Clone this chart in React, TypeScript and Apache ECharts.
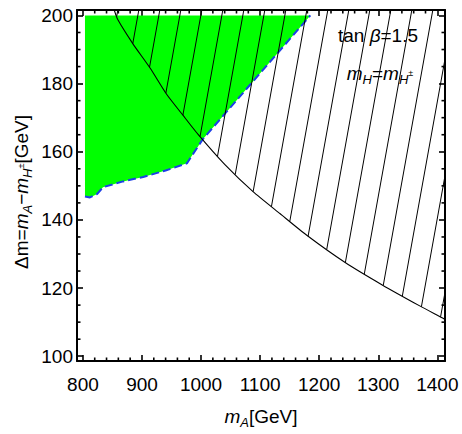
import React, { useEffect, useRef } from "react";
import * as echarts from "echarts";

// Axis ranges (Mathematica-style padded plot range)
const X_MIN = 790;
const X_MAX = 1413;
const Y_MIN = 98.6;
const Y_MAX = 201.6;

// Tick positions
const xMajorTicks = [800, 900, 1000, 1100, 1200, 1300, 1400];
const xMinorTicks = [820, 840, 860, 880, 920, 940, 960, 980, 1020, 1040, 1060, 1080, 1120, 1140, 1160, 1180, 1220, 1240, 1260, 1280, 1320, 1340, 1360, 1380];
const yMajorTicks = [100, 120, 140, 160, 180, 200];
const yMinorTicks = [105, 110, 115, 125, 130, 135, 145, 150, 155, 165, 170, 175, 185, 190, 195];

// Black exclusion curve (lower boundary of hatched region)
const curveX = [853, 859, 885, 914, 942, 969, 995, 1040, 1088, 1134, 1179, 1244, 1306, 1371, 1408, 1413];
const curveY = [201.6, 198.8, 191.6, 184.5, 176.8, 170.8, 165.1, 156.3, 148.3, 141.8, 135.5, 127.5, 121.0, 114.7, 111.3, 110.8];

// Hatched region closes along the top-right of the plot range
const hatchCornerX = [1413, 853];
const hatchCornerY = [201.6, 201.6];

// Green allowed region: lower (blue dashed) boundary, then top-left corner
const greenX = [803.5, 812, 824, 834, 868, 902, 940, 976, 1003, 1185];
const greenY = [146.9, 146.6, 147.6, 149.6, 151.3, 152.6, 154.5, 156.6, 163.7, 200];
const greenTopLeftX = [803.5];
const greenTopLeftY = [200];

// Hatch anchor (one hatch line crosses y=200 at this x)
const HATCH_ANCHOR = [893, 200];

const W = 462;
const H = 434;
const FONT = "'Liberation Sans', Arial, Helvetica, sans-serif";
const FS = 19;

const richBase = {
  n: { fontSize: FS, fontFamily: FONT, color: "#000", lineHeight: 26 },
  i: { fontSize: FS, fontFamily: FONT, color: "#000", fontStyle: "italic", lineHeight: 26 },
  s: { fontSize: 13, fontFamily: FONT, color: "#000", fontStyle: "italic", verticalAlign: "bottom", lineHeight: 14 },
};
const richFull = {
  ...richBase,
  p: { fontSize: 9, fontFamily: FONT, color: "#000", verticalAlign: "middle", lineHeight: 10 },
};

function mainOption(): any {
  const hatchPolyX = [...curveX, ...hatchCornerX];
  const hatchPolyY = [...curveY, ...hatchCornerY];
  const greenPolyX = [...greenX, ...greenTopLeftX];
  const greenPolyY = [...greenY, ...greenTopLeftY];
  const tickStyle = { color: "#000", width: 1.6 };

  const xAxes: any[] = [
    {
      type: "value", min: X_MIN, max: X_MAX, position: "bottom",
      splitLine: { show: false },
      axisLine: { show: true, onZero: false, lineStyle: { color: "#000", width: 2 } },
      axisTick: { show: true, inside: true, length: 6, customValues: xMajorTicks, lineStyle: tickStyle },
      axisLabel: { customValues: xMajorTicks, formatter: (v: number) => String(v), fontSize: FS, fontFamily: FONT, color: "#000", margin: 14 },
      name: "{i|m}{s|A}{n|[GeV]}", nameLocation: "middle", nameGap: 42, nameTextStyle: { rich: richBase },
    },
    {
      type: "value", min: X_MIN, max: X_MAX, position: "top",
      splitLine: { show: false },
      axisLine: { show: true, onZero: false, lineStyle: { color: "#000", width: 2 } },
      axisTick: { show: true, inside: true, length: 6, customValues: xMajorTicks, lineStyle: tickStyle },
      axisLabel: { show: false },
    },
  ];
  const yAxes: any[] = [
    {
      type: "value", min: Y_MIN, max: Y_MAX, position: "left",
      splitLine: { show: false },
      axisLine: { show: true, onZero: false, lineStyle: { color: "#000", width: 2 } },
      axisTick: { show: true, inside: true, length: 6, customValues: yMajorTicks, lineStyle: tickStyle },
      axisLabel: { customValues: yMajorTicks, formatter: (v: number) => String(v), fontSize: FS, fontFamily: FONT, color: "#000", margin: 4 },
    },
    {
      type: "value", min: Y_MIN, max: Y_MAX, position: "right",
      splitLine: { show: false },
      axisLine: { show: true, onZero: false, lineStyle: { color: "#000", width: 2 } },
      axisTick: { show: true, inside: true, length: 6, customValues: yMajorTicks, lineStyle: tickStyle },
      axisLabel: { show: false },
    },
  ];

  const series: any[] = [
    {
      type: "custom", name: "allowed",
      data: greenPolyX.map((x, i) => [x, greenPolyY[i]]),
      renderItem: (params: any, api: any) => {
        if (params.dataIndex !== 0) return null;
        const pts = greenPolyX.map((x, i) => api.coord([x, greenPolyY[i]]));
        return { type: "polygon", shape: { points: pts }, style: { fill: "#00ff00", stroke: "none" } };
      },
      z: 1,
    },
    {
      type: "line", name: "boundary",
      data: greenX.map((x, i) => [x, greenY[i]]),
      symbol: "none",
      lineStyle: { color: "#1c3fe6", width: 2, type: [8, 4] },
      z: 2,
    },
    {
      type: "custom", name: "excluded",
      data: hatchPolyX.map((x, i) => [x, hatchPolyY[i]]),
      renderItem: (params: any, api: any) => {
        if (params.dataIndex !== 0) return null;
        const poly = hatchPolyX.map((x, i) => api.coord([x, hatchPolyY[i]]));
        const a = api.coord(HATCH_ANCHOR);
        const s = 0.18, gap = 21;
        const u0 = a[0] + s * a[1];
        const us = poly.map((p: number[]) => p[0] + s * p[1]);
        const kmin = Math.ceil((Math.min(...us) - u0) / gap);
        const kmax = Math.floor((Math.max(...us) - u0) / gap);
        const children: any[] = [];
        for (let k = kmin; k <= kmax; k++) {
          const c = u0 + k * gap;
          const ys: number[] = [];
          for (let i = 0; i < poly.length; i++) {
            const j = (i + 1) % poly.length;
            const u1 = us[i], u2 = us[j];
            if ((u1 <= c && u2 > c) || (u2 <= c && u1 > c)) {
              const t = (c - u1) / (u2 - u1);
              ys.push(poly[i][1] + t * (poly[j][1] - poly[i][1]));
            }
          }
          ys.sort((p, q) => p - q);
          for (let m = 0; m + 1 < ys.length; m += 2) {
            children.push({ type: "line", shape: { x1: c - s * ys[m], y1: ys[m], x2: c - s * ys[m + 1], y2: ys[m + 1] }, style: { stroke: "#000", lineWidth: 1 } });
          }
        }
        return { type: "group", children };
      },
      z: 3,
    },
    {
      type: "line", name: "curve",
      data: curveX.map((x, i) => [x, curveY[i]]),
      symbol: "none", smooth: 0.2,
      lineStyle: { color: "#000", width: 1.1 },
      z: 4,
    },
    {
      type: "custom", name: "minorTicks",
      data: [[X_MIN, Y_MIN]],
      renderItem: (params: any, api: any) => {
        const L = 3.5;
        const children: any[] = [];
        const bl = api.coord([X_MIN, Y_MIN]);
        const tr = api.coord([X_MAX, Y_MAX]);
        const st = { stroke: "#000", lineWidth: 1.6 };
        xMinorTicks.forEach((v) => {
          const x = api.coord([v, Y_MIN])[0];
          children.push({ type: "line", shape: { x1: x, y1: bl[1], x2: x, y2: bl[1] - L }, style: st });
          children.push({ type: "line", shape: { x1: x, y1: tr[1], x2: x, y2: tr[1] + L }, style: st });
        });
        yMinorTicks.forEach((v) => {
          const y = api.coord([X_MIN, v])[1];
          children.push({ type: "line", shape: { x1: bl[0], y1: y, x2: bl[0] + L, y2: y }, style: st });
          children.push({ type: "line", shape: { x1: tr[0], y1: y, x2: tr[0] - L, y2: y }, style: st });
        });
        return { type: "group", children };
      },
      z: 5,
    },
  ];

  return {
    animation: false,
    grid: { left: 77, right: 17, top: 10, bottom: 62, containLabel: false },
    xAxis: xAxes,
    yAxis: yAxes,
    series,
    graphic: [
      {
        type: "text", x: 378, y: 35, z: 10,
        style: { text: "{n|tan }{i|β}{n|=1.5}", rich: richBase, align: "center", verticalAlign: "middle", textAlign: "center", textVerticalAlign: "middle" },
      },
    ],
  };
}

function overlayOption(): any {
  return {
    animation: false,
    graphic: [
      {
        type: "text", x: 21, y: 192, rotation: Math.PI / 2,
        style: {
          text: "{n|Δm=}{i|m}{s|A}{n|−}{i|m}{s|H}{p|±}{n|[GeV]}",
          rich: richFull, align: "center", verticalAlign: "middle", textAlign: "center", textVerticalAlign: "middle",
        },
      },
      {
        type: "text", x: 380, y: 73,
        style: {
          text: "{i|m}{s|H}{n|=}{i|m}{s|H}{p|±}",
          rich: richFull, align: "center", verticalAlign: "middle", textAlign: "center", textVerticalAlign: "middle",
        },
      },
    ],
  };
}

export default function App() {
  const mainRef = useRef<HTMLDivElement>(null);
  const overRef = useRef<HTMLDivElement>(null);

  useEffect(() => {
    document.body.style.margin = "0";
    let main: any = null;
    let over: any = null;
    try {
      if (mainRef.current) {
        main = echarts.init(mainRef.current, undefined, { renderer: "svg" });
        main.setOption(mainOption());
      }
    } catch (e) {
      // keep page alive
    }
    try {
      if (overRef.current) {
        over = echarts.init(overRef.current, undefined, { renderer: "svg" });
        over.setOption(overlayOption());
      }
    } catch (e) {
      // keep page alive
    }
    return () => {
      if (main) main.dispose();
      if (over) over.dispose();
    };
  }, []);

  return (
    <div style={{ position: "relative", width: W, height: H }}>
      <div ref={mainRef} style={{ position: "absolute", left: 0, top: 0, width: W, height: H }} />
      <div ref={overRef} style={{ position: "absolute", left: 0, top: 0, width: W, height: H, pointerEvents: "none" }} />
    </div>
  );
}
